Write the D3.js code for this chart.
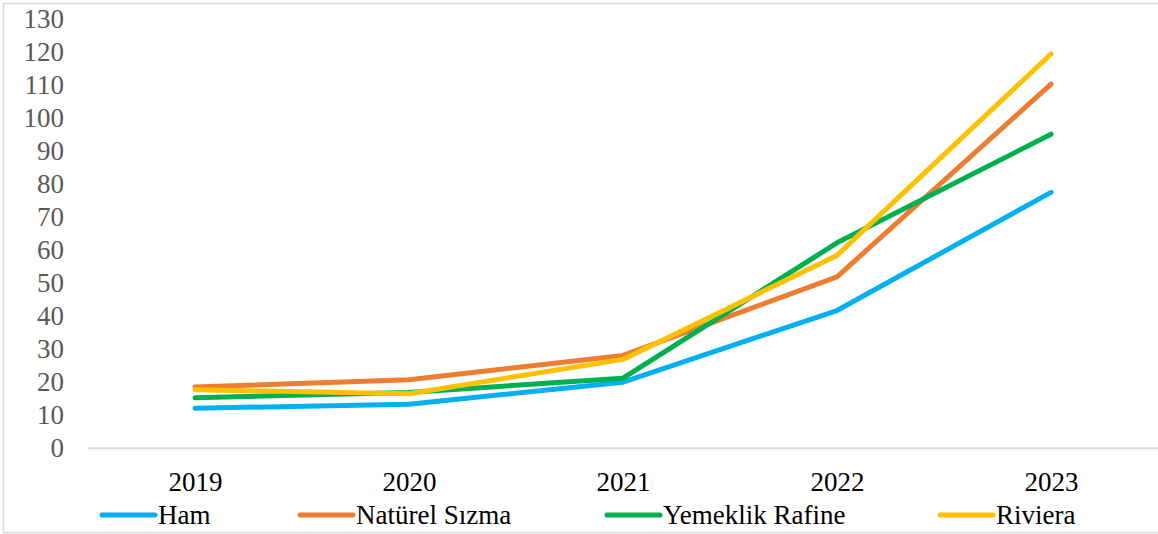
<!DOCTYPE html>
<html>
<head>
<meta charset="utf-8">
<script src="https://cdn.jsdelivr.net/npm/d3@7"></script>
<style>
  body { margin: 0; background: #fff; }
  svg { display: block; font-family: "Liberation Serif", "Times New Roman", serif; }
</style>
</head>
<body>
<svg id="chart"></svg>
<script>
const years = ['2019', '2020', '2021', '2022', '2023'];
const seriesNames = ['Ham', 'Natürel Sızma', 'Yemeklik Rafine', 'Riviera'];
const ham = [12.1, 13.3, 20.0, 41.7, 77.5];
const naturelSizma = [18.5, 20.7, 28.1, 51.9, 110.3];
const yemeklikRafine = [15.3, 16.9, 21.2, 62.2, 95.1];
const riviera = [17.7, 16.5, 26.9, 58.4, 119.4];
const yTicks = [0, 10, 20, 30, 40, 50, 60, 70, 80, 90, 100, 110, 120, 130];
const colors = ['#00B0F0', '#ED7D31', '#00B050', '#FFC000'];

const width = 1158;
const height = 534;
const margin = { top: 19, right: 0, bottom: 86, left: 88 };

const series = [ham, naturelSizma, yemeklikRafine, riviera].map((values, i) => ({
  name: seriesNames[i],
  color: colors[i],
  values: values.map((v, j) => ({ year: years[j], value: v }))
}));

const svg = d3.select('#chart')
  .attr('width', width)
  .attr('height', height);

// outer chart border
svg.append('rect')
  .attr('x', 3.5)
  .attr('y', 3.5)
  .attr('width', width + 10)
  .attr('height', 529)
  .attr('fill', 'none')
  .attr('stroke', '#D9D9D9')
  .attr('stroke-width', 1.5);

const x = d3.scalePoint()
  .domain(years)
  .range([margin.left, width - margin.right])
  .padding(0.5);

const y = d3.scaleLinear()
  .domain([0, 130])
  .range([height - margin.bottom + 0.2, margin.top]);

// y axis labels
svg.append('g')
  .attr('transform', 'translate(64,0)')
  .call(d3.axisLeft(y).tickValues(yTicks).tickSize(0).tickPadding(0))
  .call(g => g.select('.domain').remove())
  .call(g => g.selectAll('text')
    .attr('font-family', '"Liberation Serif", serif')
    .attr('font-size', 27)
    .attr('fill', '#595959'));

// baseline
svg.append('line')
  .attr('x1', margin.left)
  .attr('x2', width)
  .attr('y1', y(0))
  .attr('y2', y(0))
  .attr('stroke', '#D9D9D9')
  .attr('stroke-width', 2);

// x axis labels
svg.append('g')
  .attr('transform', `translate(0,${y(0) + 16})`)
  .call(d3.axisBottom(x).tickSize(0).tickPadding(8))
  .call(g => g.select('.domain').remove())
  .call(g => g.selectAll('text')
    .attr('font-family', '"Liberation Serif", serif')
    .attr('font-size', 27)
    .attr('fill', '#000'));

const line = d3.line()
  .x(d => x(d.year))
  .y(d => y(d.value));

svg.append('g')
  .selectAll('path')
  .data(series)
  .join('path')
    .attr('d', d => line(d.values))
    .attr('fill', 'none')
    .attr('stroke', d => d.color)
    .attr('stroke-width', 5)
    .attr('stroke-linecap', 'round')
    .attr('stroke-linejoin', 'round');

// legend
const legendX = [102, 300, 607, 940];
const legend = svg.append('g')
  .selectAll('g')
  .data(series)
  .join('g')
    .attr('transform', (d, i) => `translate(${legendX[i]},515)`);

legend.append('line')
  .attr('x1', 0)
  .attr('x2', 53)
  .attr('stroke', d => d.color)
  .attr('stroke-width', 5)
  .attr('stroke-linecap', 'round');

legend.append('text')
  .attr('x', 56)
  .attr('dy', '0.34em')
  .attr('font-size', 27)
  .attr('fill', '#000')
  .text(d => d.name);
</script>
</body>
</html>
